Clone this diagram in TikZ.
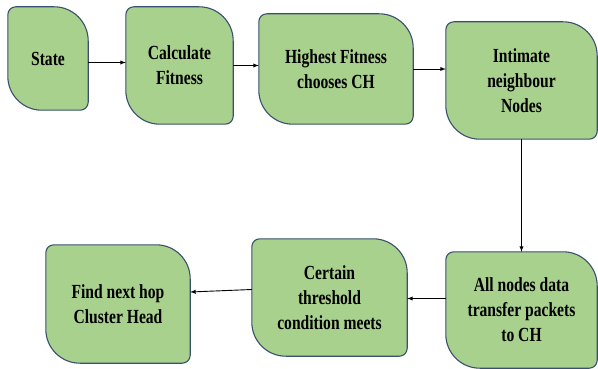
\documentclass[tikz,border=0pt]{standalone}
\usepackage{fontspec}
\setmainfont{Liberation Serif}[FakeStretch=0.78]
\usetikzlibrary{arrows,backgrounds}
\definecolor{leafgreen}{HTML}{A9D18E}
\definecolor{edgeblue}{HTML}{3A5070}
\newcommand{\smallrad}{8pt}
\newcommand{\bigrad}{34pt}

\begin{document}
\begin{tikzpicture}[x=1pt,y=1pt,>=latex,
        flow node/.style={inner sep=0pt,align=center,font=\fontsize{20}{25}\selectfont\bfseries},
        leaf/.style={fill=leafgreen,draw=edgeblue,line width=1.1pt},
        link/.style={->,line width=0.9pt}]
        \useasboundingbox (0,0) rectangle (598,-369);
        \node[flow node,minimum width=80pt,minimum height=103pt] (state) at (48,-58.5) {State};
        \node[flow node,minimum width=107pt,minimum height=117pt] (calc) at (179.5,-65.5) {Calculate\\Fitness};
        \node[flow node,minimum width=154pt,minimum height=110pt] (high) at (336,-69) {Highest Fitness\\chooses CH};
        \node[flow node,minimum width=151pt,minimum height=117pt] (intim) at (521.5,-80.5) {Intimate\\neighbour\\Nodes};
        \node[flow node,minimum width=151pt,minimum height=116pt] (alln) at (521.5,-310) {All nodes data\\transfer packets\\to CH};
        \node[flow node,minimum width=155pt,minimum height=117pt] (cert) at (329.5,-297.5) {Certain\\threshold\\condition meets};
        \node[flow node,minimum width=144pt,minimum height=118pt] (find) at (118,-304) {Find next hop\\Cluster Head};
        \begin{pgfonlayer}{background}
        \foreach \n in {state,calc,high,intim,alln,cert,find}
          \draw[leaf] ([xshift=\smallrad]\n.north west) -- ([xshift=-\bigrad]\n.north east)
            arc[start angle=90,end angle=0,radius=\bigrad] -- ([yshift=\smallrad]\n.south east)
            arc[start angle=0,end angle=-90,radius=\smallrad] -- ([xshift=\bigrad]\n.south west)
            arc[start angle=270,end angle=180,radius=\bigrad] -- ([yshift=-\smallrad]\n.north west)
            arc[start angle=180,end angle=90,radius=\smallrad] -- cycle;
        \end{pgfonlayer}
        \draw[link] ([yshift=-4pt]state.east) -- ([yshift=-4pt]state.east -| calc.west);
        \draw[link] (calc.east) -- (calc.east -| high.west);
        \draw[link] (high.east) -- (high.east -| intim.west);
        \draw[link] (intim) -- (alln);
        \draw[link] ([yshift=-1pt]cert.east -| alln.west) -- ([yshift=-1pt]cert.east);
        \draw[link] ([yshift=8pt]cert.west) -- ([yshift=12pt]find.east);
\end{tikzpicture}
\end{document}
